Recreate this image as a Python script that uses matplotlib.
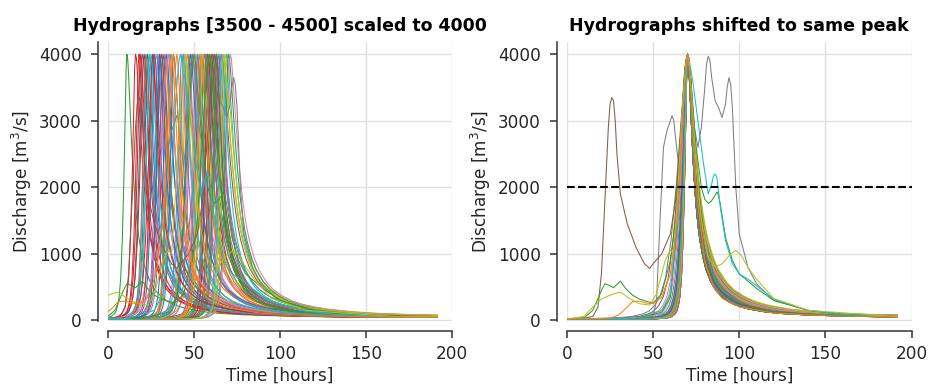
import numpy as np
import matplotlib.pyplot as plt
from matplotlib.patches import Rectangle

# shape of a single hydrograph: hours relative to the peak, fraction of the peak
base_rel = [-70, -40, -30, -20, -15, -12, -10, -8, -7, -6, -5, -4, -3, -2, -1, -0.5, 0,
            0.5, 1, 2, 3, 4, 5, 6, 7, 8, 10, 12, 15, 18, 22, 26, 30, 35, 40, 50, 60,
            75, 90, 110, 130, 160, 190]
base_frac = [0.005, 0.005, 0.005, 0.006, 0.008, 0.011, 0.015, 0.025, 0.035, 0.055, 0.09,
             0.16, 0.30, 0.52, 0.80, 0.95, 1.0, 0.985, 0.93, 0.80, 0.67, 0.56, 0.47, 0.40,
             0.345, 0.30, 0.235, 0.19, 0.145, 0.115, 0.09, 0.072, 0.06, 0.05, 0.042, 0.032,
             0.026, 0.021, 0.018, 0.015, 0.013, 0.012, 0.011]

# peak times in the left panel, rising / falling limb stretch per event
left_peaks = [23, 46, 11, 16, 33, 57, 28, 63, 55, 36,
              20, 40, 58, 26, 49, 31, 44, 61, 67, 53,
              34, 22, 56, 19, 29, 66, 52, 47, 60, 25,
              38, 54, 57, 21, 65, 30, 50, 62, 45, 69,
              27, 35, 59, 18, 64, 32, 51, 56, 68, 24,
              48, 37, 70, 58, 43, 60, 71, 22, 55, 66,
              30, 54, 63, 26, 57, 61, 35, 52, 67, 44]
rise_f = [1.0, 1.3, 0.9, 1.0, 1.2, 1.0, 1.5, 1.1, 2.2, 1.0,
          1.1, 1.6, 0.9, 1.0, 1.2, 1.4, 1.0, 1.8, 1.0, 1.1,
          1.0, 0.9, 1.3, 1.1, 1.0, 2.8, 1.0, 1.2, 0.95, 1.5,
          1.0, 1.1, 1.0, 1.3, 0.9, 1.0, 2.0, 1.0, 1.1, 1.2,
          1.0, 0.9, 1.4, 1.0, 1.1, 1.2, 1.0, 3.2, 0.9, 1.0,
          1.6, 1.0, 1.1, 0.9, 1.3, 1.0, 1.2, 1.0, 1.1, 0.95,
          1.0, 1.2, 1.0, 1.4, 0.9, 1.0, 2.4, 1.1, 1.0, 1.3]
fall_f = [1.0, 1.2, 0.9, 1.1, 1.3, 0.95, 1.15, 1.4, 1.05, 0.9,
          1.25, 1.0, 1.35, 0.9, 1.1, 1.2, 1.0, 1.3, 1.45, 0.95,
          1.1, 1.0, 1.25, 0.9, 1.15, 1.4, 1.05, 0.95, 1.3, 1.0,
          1.2, 1.1, 1.35, 0.9, 1.0, 1.25, 1.15, 1.45, 0.95, 1.3,
          1.05, 1.2, 1.4, 0.9, 1.1, 1.0, 1.3, 1.15, 1.5, 0.95,
          1.2, 1.05, 1.35, 1.1, 0.9, 1.25, 1.4, 1.0, 1.3, 1.15,
          1.0, 1.2, 0.9, 1.1, 1.35, 1.05, 1.25, 0.95, 1.4, 1.1]

# multi-peak events, given as aligned to the common peak (70 h)
gray_t = [0, 40, 50, 52, 54, 56, 58, 60, 61, 62, 63, 65, 67, 68, 69, 70, 71, 72, 74, 76,
          78, 80, 81, 82, 83, 84, 86, 88, 90, 92, 93, 94, 95, 96, 98, 100, 105, 110, 120,
          140, 160, 192]
gray_q = [20, 25, 60, 300, 1500, 2600, 2850, 3000, 3080, 3000, 2750, 2300, 2900, 3400,
          3850, 4000, 3850, 3600, 2900, 2600, 2900, 3500, 3850, 3970, 3900, 3650, 3300,
          3200, 3050, 3250, 3500, 3650, 3550, 3200, 2000, 1300, 800, 550, 300, 150, 90, 60]
brown_t = [0, 10, 15, 18, 20, 22, 24, 25, 26, 27, 28, 29, 31, 35, 40, 45, 48, 50, 55, 60,
           63, 66, 68, 69, 70, 71, 72, 74, 76, 80, 85, 90, 100, 120, 150, 192]
brown_q = [20, 30, 60, 200, 700, 1800, 2900, 3250, 3350, 3300, 3000, 2500, 1900, 1450,
           1100, 850, 780, 850, 1000, 1300, 1800, 2800, 3600, 3900, 4000, 3850, 3600, 2600,
           1800, 1000, 600, 420, 250, 130, 80, 55]
green_t = [0, 10, 15, 20, 22, 25, 27, 29, 31, 34, 38, 42, 47, 50, 55, 60, 63, 66, 68, 69,
           70, 71, 72, 75, 80, 85, 90, 100, 110, 120, 140, 160, 192]
green_q = [20, 40, 150, 450, 550, 520, 490, 540, 590, 480, 380, 320, 280, 260, 400, 900,
           1500, 2800, 3600, 3900, 4000, 3800, 3400, 2300, 1200, 700, 480, 280, 180, 130,
           90, 70, 55]
green2_t = [0, 40, 55, 60, 64, 67, 69, 70, 71, 72, 75, 78, 80, 82, 84, 86, 87, 88, 89, 92,
            96, 100, 110, 120, 140, 160, 192]
green2_q = [20, 30, 120, 350, 1400, 3100, 3850, 4000, 3850, 3500, 2600, 2000, 1820, 1760,
            1800, 1880, 1930, 1880, 1750, 1250, 900, 700, 480, 300, 150, 90, 55]
cyan_t = [0, 40, 55, 60, 64, 67, 69, 70, 71, 73, 76, 79, 82, 84, 85, 86, 87, 89, 92, 96,
          100, 105, 110, 120, 140, 160, 192]
cyan_q = [20, 30, 150, 400, 1500, 3200, 3850, 4000, 3900, 3600, 3000, 2400, 1900, 2050,
          2170, 2200, 2150, 1700, 1200, 850, 700, 620, 520, 320, 150, 90, 55]
olive_t = [0, 10, 15, 20, 25, 30, 32, 36, 42, 48, 52, 57, 60, 62, 64, 67, 69, 70, 71, 72,
           75, 78, 82, 86, 90, 95, 98, 101, 105, 110, 120, 140, 192]
olive_q = [20, 60, 200, 320, 380, 420, 410, 330, 250, 230, 400, 900, 1050, 1000, 1800,
           3200, 3850, 4000, 3850, 3500, 2300, 1500, 950, 800, 850, 1000, 1050, 980, 800,
           620, 330, 150, 55]
orange_t = [0, 25, 30, 35, 38, 42, 46, 50, 55, 60, 64, 67, 69, 70, 71, 72, 75, 80, 85, 90,
            100, 120, 150, 192]
orange_q = [20, 30, 80, 200, 280, 290, 260, 250, 350, 700, 1500, 3000, 3800, 4000, 3800,
            3400, 2000, 900, 500, 330, 200, 110, 70, 50]

special_t = [gray_t, brown_t, green_t, green2_t, cyan_t, olive_t, orange_t]
special_q = [gray_q, brown_q, green_q, green2_q, cyan_q, olive_q, orange_q]
special_col = ['tab:gray', 'tab:brown', 'tab:green', 'tab:green', 'tab:cyan', 'tab:olive',
               'tab:orange']
special_left_peak = [49, 62, 59, 50, 42, 45, 38]

PEAK = 4000
ALIGN = 70
END = 192

plt.rcParams['font.family'] = 'DejaVu Sans'
fig = plt.figure(figsize=(9.35, 3.86), dpi=100)
ax1 = fig.add_axes([0.1155, 0.1684, 0.3679, 0.7236])
ax2 = fig.add_axes([0.6064, 0.1684, 0.3685, 0.7236])

rel = np.array(base_rel, dtype=float)
q = np.array(base_frac) * PEAK


def draw(ax, t, v, color):
    line, = ax.plot(t, v, color=color, lw=0.75)
    line.set_clip_path(Rectangle((0, -1000), END, 10000, transform=ax.transData))


for ax, aligned in [(ax1, False), (ax2, True)]:
    for i, p in enumerate(left_peaks):
        stretch = np.where(rel < 0, rise_f[i], fall_f[i])
        peak = ALIGN if aligned else p
        draw(ax, peak + rel * stretch, q, 'C%d' % (i % 10))
    for t, v, c, p in zip(special_t, special_q, special_col, special_left_peak):
        shift = 0 if aligned else p - ALIGN
        t = np.array(t, dtype=float) + shift
        # pad the shifted record with its end values so it covers 0..192
        t = np.concatenate([[t[0] - 200], t, [t[-1] + 200]])
        v = np.concatenate([[v[0]], v, [v[-1]]])
        draw(ax, t, v, c)

ax2.axhline(2000, color='black', ls='--', lw=1.5, zorder=5)

titles = ['Hydrographs [3500 - 4500] scaled to 4000', 'Hydrographs shifted to same peak']
for ax, title in zip([ax1, ax2], titles):
    ax.set_xlim(0, 200)
    ax.set_ylim(-10, 4190)
    ax.set_xticks([0, 50, 100, 150, 200])
    ax.set_yticks([0, 1000, 2000, 3000, 4000])
    ax.grid(color='#e0e0e0', lw=1)
    ax.set_axisbelow(True)
    for side in ['top', 'right']:
        ax.spines[side].set_visible(False)
    for side in ['left', 'bottom']:
        ax.spines[side].set_position(('outward', 7))
        ax.spines[side].set_color('#333333')
        ax.spines[side].set_linewidth(1.1)
    ax.tick_params(length=4.8, width=1.1, color='#333333', labelcolor='#262626',
                   labelsize=12.2)
    ax.tick_params(axis='y', pad=7)
    ax.tick_params(axis='x', pad=5.5)
    ax.set_xlabel('Time [hours]', fontsize=12.2, color='#262626', labelpad=3)
    ax.set_ylabel('Discharge [m$^3$/s]', fontsize=12.2, color='#262626', labelpad=3.5)
    ax.set_title(title, fontsize=12.5, fontweight='bold', pad=8)

fig.savefig('out.png', dpi=100)
